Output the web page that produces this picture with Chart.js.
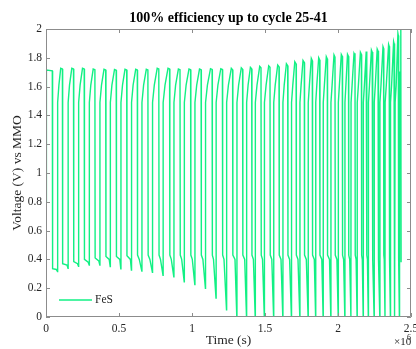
<!DOCTYPE html>
<html>
<head>
<meta charset="utf-8">
<script src="https://cdn.jsdelivr.net/npm/chart.js@4/dist/chart.umd.min.js"></script>
<style>
  html, body { margin: 0; padding: 0; background: #ffffff; }
  #wrap { width: 416px; height: 349px; position: relative; }
</style>
</head>
<body>
<div id="wrap"><canvas id="chart"></canvas></div>
<script>
// Galvanostatic cycling of the FeS electrode: elapsed time (ks) and cell voltage (V vs MMO).
// One row per cycle: charge rise, charge plateau, top of charge, discharge plateau, end of discharge.
const timeKs = [
  0.0, 1.5, 4.1, 43.2, 45.2, 70.5, 78.8,
  79.8, 88.4, 100.7, 112.3, 114.0, 143.8, 150.7,
  151.7, 161.0, 176.7, 188.4, 190.1, 215.8, 222.6,
  223.6, 233.6, 250.0, 261.6, 263.4, 289.0, 295.9,
  296.9, 306.8, 323.3, 334.9, 336.6, 361.6, 368.5,
  369.5, 380.1, 397.3, 408.9, 410.6, 432.9, 439.7,
  440.8, 451.4, 469.2, 480.8, 482.5, 505.5, 512.3,
  513.4, 524.0, 541.1, 552.7, 554.5, 578.1, 584.9,
  586.0, 596.6, 614.4, 625.3, 627.0, 639.0, 656.2,
  657.2, 668.5, 687.0, 697.9, 699.7, 711.6, 728.8,
  729.8, 741.8, 761.6, 772.6, 774.3, 784.2, 801.4,
  802.4, 815.1, 835.6, 846.6, 848.3, 858.2, 875.3,
  876.4, 887.7, 906.8, 917.8, 919.5, 929.4, 946.6,
  947.6, 959.6, 979.4, 990.4, 992.1, 1002.1, 1019.2,
  1020.2, 1032.2, 1051.4, 1062.3, 1064.0, 1074.7, 1091.8,
  1092.8, 1105.5, 1126.7, 1137.7, 1139.4, 1147.3, 1164.4,
  1165.4, 1177.4, 1197.3, 1208.2, 1209.9, 1219.2, 1236.3,
  1237.3, 1249.3, 1269.2, 1278.1, 1279.8, 1294.5, 1306.9,
  1307.9, 1319.2, 1337.7, 1346.6, 1348.3, 1360.9, 1373.3,
  1374.3, 1384.2, 1400.0, 1408.9, 1410.6, 1420.5, 1432.9,
  1433.9, 1445.2, 1463.7, 1472.6, 1474.3, 1482.9, 1495.2,
  1496.2, 1507.5, 1525.3, 1534.2, 1536.0, 1546.6, 1558.9,
  1559.9, 1569.9, 1587.0, 1595.9, 1597.6, 1609.6, 1621.9,
  1622.9, 1631.5, 1646.6, 1655.5, 1657.2, 1668.5, 1680.8,
  1681.8, 1690.4, 1704.1, 1713.0, 1714.7, 1726.0, 1738.3,
  1739.4, 1747.3, 1760.3, 1769.2, 1770.9, 1782.9, 1795.2,
  1796.2, 1804.1, 1817.1, 1824.0, 1825.7, 1837.7, 1846.6,
  1847.6, 1854.8, 1867.8, 1874.6, 1876.4, 1889.0, 1898.0,
  1899.0, 1906.8, 1919.9, 1926.7, 1928.4, 1941.8, 1950.7,
  1951.7, 1959.6, 1972.6, 1979.4, 1981.2, 1992.5, 2001.4,
  2002.4, 2009.6, 2022.6, 2029.4, 2031.2, 2038.4, 2046.6,
  2047.6, 2054.1, 2065.1, 2071.9, 2073.6, 2080.1, 2088.4,
  2089.4, 2096.6, 2109.6, 2116.4, 2118.1, 2124.0, 2130.8,
  2131.8, 2139.7, 2153.4, 2160.3, 2162.0, 2166.4, 2172.6,
  2173.6, 2180.8, 2193.1, 2196.6, 2197.9, 2201.4, 2207.5,
  2208.6, 2215.7, 2228.8, 2234.3, 2235.6, 2239.7, 2247.3,
  2248.3, 2255.5, 2268.5, 2274.0, 2275.3, 2279.4, 2286.3,
  2287.3, 2294.5, 2308.2, 2312.3, 2313.7, 2316.5, 2321.9,
  2322.9, 2330.8, 2346.6, 2350.7, 2352.0, 2354.1, 2358.9,
  2359.9, 2367.1, 2380.8, 2383.6, 2384.9, 2387.0, 2390.4,
  2391.4, 2398.6, 2410.3, 2413.0, 2414.4, 2416.4, 2420.5,
  2421.6, 2424.7, 2430.2, 2432.2
];

const voltageV = [
  0.80, 1.70, 1.715, 1.71, 0.335, 0.33, 0.315,
  1.49, 1.61, 1.727, 1.722, 0.37, 0.36, 0.338,
  1.49, 1.61, 1.727, 1.722, 0.385, 0.37, 0.352,
  1.49, 1.61, 1.727, 1.722, 0.40, 0.38, 0.36,
  1.49, 1.61, 1.722, 1.717, 0.41, 0.39, 0.36,
  1.49, 1.61, 1.72, 1.715, 0.42, 0.40, 0.35,
  1.49, 1.61, 1.718, 1.713, 0.42, 0.40, 0.335,
  1.49, 1.61, 1.72, 1.715, 0.425, 0.40, 0.326,
  1.49, 1.61, 1.72, 1.715, 0.43, 0.40, 0.319,
  1.49, 1.61, 1.72, 1.715, 0.43, 0.40, 0.31,
  1.49, 1.61, 1.727, 1.722, 0.43, 0.40, 0.29,
  1.49, 1.61, 1.727, 1.722, 0.43, 0.40, 0.28,
  1.49, 1.61, 1.722, 1.717, 0.43, 0.40, 0.245,
  1.49, 1.61, 1.722, 1.717, 0.43, 0.40, 0.225,
  1.49, 1.61, 1.722, 1.717, 0.43, 0.40, 0.20,
  1.49, 1.61, 1.724, 1.719, 0.43, 0.40, 0.132,
  1.49, 1.61, 1.724, 1.719, 0.43, 0.40, 0.05,
  1.49, 1.61, 1.727, 1.717, 0.43, 0.40, 0.0,
  1.49, 1.61, 1.731, 1.721, 0.43, 0.40, 0.0,
  1.49, 1.61, 1.733, 1.723, 0.43, 0.40, 0.0,
  1.49, 1.61, 1.741, 1.731, 0.43, 0.40, 0.0,
  1.49, 1.61, 1.745, 1.735, 0.43, 0.40, 0.0,
  1.49, 1.61, 1.75, 1.738, 0.43, 0.40, 0.0,
  1.49, 1.61, 1.759, 1.745, 0.43, 0.40, 0.0,
  1.49, 1.61, 1.773, 1.758, 0.43, 0.40, 0.0,
  1.49, 1.61, 1.782, 1.767, 0.43, 0.40, 0.0,
  1.49, 1.61, 1.796, 1.78, 0.43, 0.40, 0.0,
  1.49, 1.61, 1.80, 1.785, 0.43, 0.40, 0.0,
  1.49, 1.61, 1.808, 1.793, 0.43, 0.40, 0.0,
  1.49, 1.61, 1.82, 1.805, 0.43, 0.40, 0.0,
  1.49, 1.61, 1.824, 1.81, 0.43, 0.40, 0.0,
  1.49, 1.61, 1.824, 1.81, 0.43, 0.40, 0.0,
  1.49, 1.61, 1.831, 1.816, 0.43, 0.40, 0.0,
  1.49, 1.61, 1.838, 1.823, 0.43, 0.40, 0.0,
  1.49, 1.61, 1.843, 1.83, 0.43, 0.40, 0.0,
  1.49, 1.61, 1.854, 1.84, 0.43, 0.40, 0.0,
  1.49, 1.61, 1.861, 1.848, 0.43, 0.40, 0.0,
  1.49, 1.61, 1.877, 1.865, 0.43, 0.40, 0.0,
  1.49, 1.61, 1.893, 1.88, 0.43, 0.40, 0.0,
  1.49, 1.61, 1.912, 1.90, 0.43, 0.40, 0.0,
  1.49, 1.61, 1.97, 1.955, 0.43, 0.40, 0.0,
  1.49, 1.70, 2.0, 0.38
];

const seriesLabel = 'FeS';
const chartTitle = '100% efficiency up to cycle 25-41';
const xAxisTitle = 'Time (s)';
const yAxisTitle = 'Voltage (V) vs MMO';
const xTickValues = [0, 0.5, 1, 1.5, 2, 2.5];          // in units of 10^6 s
const yTickValues = [0, 0.2, 0.4, 0.6, 0.8, 1, 1.2, 1.4, 1.6, 1.8, 2];
const xExponent = '6';

const serif = '"Liberation Serif", "DejaVu Serif", serif';
const lineColor = '#12f084';
const axisColor = '#8c8c8c';
const textColor = '#262626';

const points = timeKs.map((t, i) => ({ x: t * 1000, y: voltageV[i] }));

// Axes box with inward tick marks, the in-plot legend and the x exponent.
const axesDecor = {
  id: 'axesDecor',
  afterDatasetsDraw(chart) {
    const { ctx, chartArea: a, scales: { x, y } } = chart;
    const tick = 4;
    ctx.save();
    ctx.strokeStyle = axisColor;
    ctx.lineWidth = 1;
    ctx.beginPath();
    ctx.rect(a.left + 0.5, a.top + 0.5, a.right - a.left - 1, a.bottom - a.top - 1);
    xTickValues.forEach(v => {
      const px = Math.round(x.getPixelForValue(v * 1e6)) + 0.5;
      ctx.moveTo(px, a.bottom); ctx.lineTo(px, a.bottom - tick);
      ctx.moveTo(px, a.top); ctx.lineTo(px, a.top + tick);
    });
    yTickValues.forEach(v => {
      const py = Math.round(y.getPixelForValue(v)) + 0.5;
      ctx.moveTo(a.left, py); ctx.lineTo(a.left + tick, py);
      ctx.moveTo(a.right, py); ctx.lineTo(a.right - tick, py);
    });
    ctx.stroke();

    // legend, lower left inside the axes
    const ds = chart.data.datasets[0];
    const ly = a.bottom - 17;
    ctx.strokeStyle = ds.borderColor;
    ctx.lineWidth = ds.borderWidth;
    ctx.beginPath();
    ctx.moveTo(a.left + 13, ly); ctx.lineTo(a.left + 46, ly);
    ctx.stroke();
    ctx.fillStyle = textColor;
    ctx.font = '11.5px ' + serif;
    ctx.textBaseline = 'middle';
    ctx.textAlign = 'left';
    ctx.fillText(ds.label, a.left + 49, ly);

    // ×10^6 multiplier under the right end of the x axis
    ctx.font = '11px ' + serif;
    ctx.textBaseline = 'alphabetic';
    ctx.fillText('\u00d710', a.right - 17, a.bottom + 28);
    ctx.font = '8px ' + serif;
    ctx.fillText(xExponent, a.right - 4, a.bottom + 23);
    ctx.restore();
  }
};

new Chart(document.getElementById('chart'), {
  type: 'line',
  data: {
    datasets: [{
      label: seriesLabel,
      data: points,
      borderColor: lineColor,
      backgroundColor: lineColor,
      borderWidth: 1.4,
      pointRadius: 0,
      tension: 0,
      fill: false
    }]
  },
  options: {
    responsive: true,
    maintainAspectRatio: false,
    animation: false,
    parsing: false,
    normalized: true,
    layout: { padding: { left: 0, right: 5, top: 0, bottom: 0 } },
    plugins: {
      legend: { display: false },
      tooltip: { enabled: false },
      title: {
        display: true,
        text: chartTitle,
        fullSize: false,
        color: '#000000',
        font: { family: serif, size: 14, weight: 'bold' },
        padding: { top: 9.6, bottom: 2.6 }
      }
    },
    scales: {
      x: {
        type: 'linear',
        min: 0,
        max: 2.5e6,
        afterBuildTicks: s => { s.ticks = xTickValues.map(v => ({ value: v * 1e6 })); },
        afterFit: s => { s.height = 32; s.paddingLeft = 0; s.paddingRight = 0; },
        grid: { display: false, drawTicks: false },
        border: { display: false },
        ticks: {
          autoSkip: false,
          maxRotation: 0,
          padding: 5,
          color: textColor,
          font: { family: serif, size: 11.5 },
          callback: v => String(Math.round(v / 1e5) / 10)
        },
        title: {
          display: true,
          text: xAxisTitle,
          color: textColor,
          font: { family: serif, size: 13.5 },
          padding: { top: 0, bottom: 0 }
        }
      },
      y: {
        type: 'linear',
        min: 0,
        max: 2,
        afterBuildTicks: s => { s.ticks = yTickValues.map(v => ({ value: v })); },
        afterFit: s => { s.width = 46; s.paddingTop = 0; s.paddingBottom = 0; },
        grid: { display: false, drawTicks: false },
        border: { display: false },
        ticks: {
          autoSkip: false,
          padding: 4,
          color: textColor,
          font: { family: serif, size: 11.5 },
          callback: v => String(Math.round(v * 10) / 10)
        },
        title: {
          display: true,
          text: yAxisTitle,
          color: textColor,
          font: { family: serif, size: 13.5 },
          padding: { top: 9, bottom: 0 }
        }
      }
    }
  },
  plugins: [axesDecor]
});
</script>
</body>
</html>
